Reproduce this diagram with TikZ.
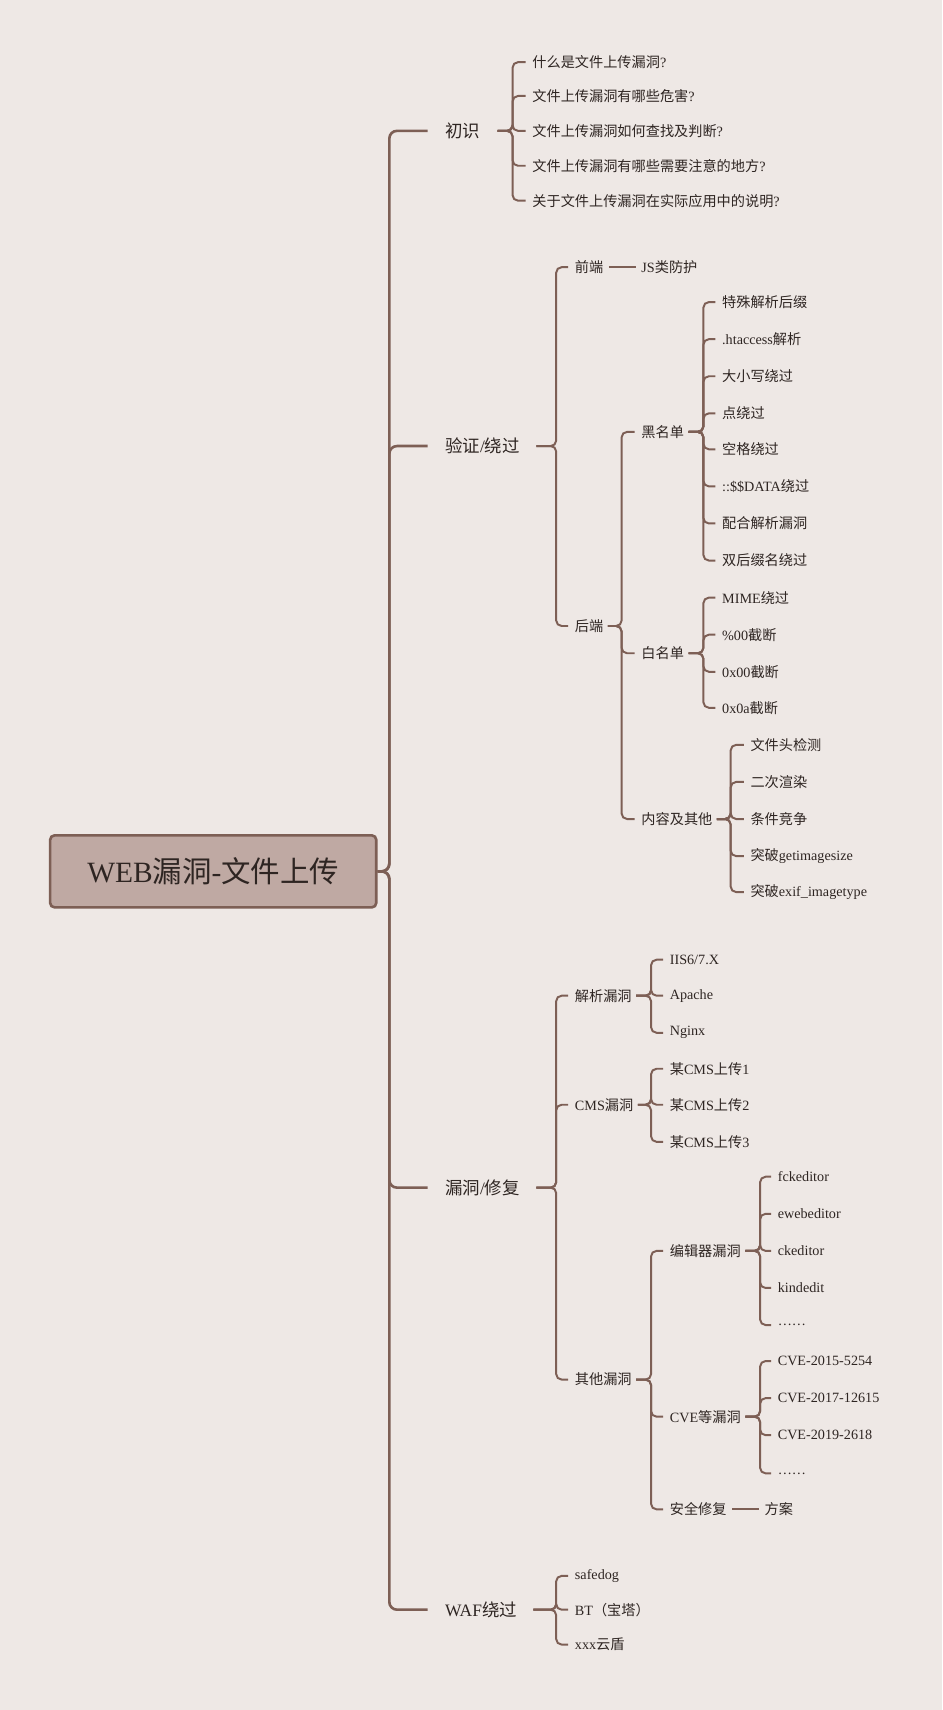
\documentclass[tikz,border=0pt]{standalone}
\usepackage{fontspec}
\setmainfont{Liberation Serif}
\newfontfamily\cjk{Noto Sans CJK SC}
\XeTeXinterchartokenstate=1
\newXeTeXintercharclass\cjkclass
\count255="4E00
\loop\XeTeXcharclass\count255=\cjkclass\ifnum\count255<"9FFF\advance\count255 1\repeat
\count255="FF00
\loop\XeTeXcharclass\count255=\cjkclass\ifnum\count255<"FFEF\advance\count255 1\repeat
\XeTeXinterchartoks 0 \cjkclass={\cjk}
\XeTeXinterchartoks 4095 \cjkclass={\cjk}
\XeTeXinterchartoks \cjkclass 0={\rmfamily}
\definecolor{bg}{HTML}{EEE8E5}
\definecolor{ln}{HTML}{7D5F55}
\definecolor{rootfill}{HTML}{BFA9A3}
\definecolor{tx}{HTML}{2E2522}
\tikzset{
 lab/.style={anchor=west,inner sep=0pt,text=tx,font=\fontsize{13}{15}\selectfont},
 big/.style={lab,font=\fontsize{16}{18}\selectfont},
 link/.style={draw=ln,line width=1.8pt,rounded corners=5pt},
 trunk/.style={draw=ln,line width=2.4pt,rounded corners=7pt}
}
\newcommand\conn[4]{% parent, bracket x, start gap, children
 \coordinate (tmpb) at (#2,0);
 \foreach \c in {#4}{\draw[link] ([xshift=#3]#1.east) -- (#1.east -| tmpb) |- ([xshift=-6]\c.west);}}
\begin{document}
\begin{tikzpicture}[x=1pt,y=-1pt]
\fill[bg] (0,0) rectangle (864,1568);
\useasboundingbox (0,0) rectangle (864,1568);
\node[draw=ln,line width=2.4pt,fill=rootfill,rounded corners=4pt,minimum width=299pt,minimum height=66pt,text=tx,font=\fontsize{27}{30}\selectfont] (root) at (195.5,799) {WEB漏洞-文件上传};
\node[big] (a) at (408,120) {初识};
\node[big] (b) at (408,409) {验证/绕过};
\node[big] (c) at (408,1089) {漏洞/修复};
\node[big] (d) at (408,1476) {WAF绕过};
\coordinate (tb) at (357,0);
\foreach \c in {a,b,c,d}{\draw[trunk] (root.east) -- (root.east -| tb) |- ([xshift=-16]\c.west);}
% 初识
\node[lab] (a1) at (488,57) {什么是文件上传漏洞?};
\node[lab] (a2) at (488,88) {文件上传漏洞有哪些危害?};
\node[lab] (a3) at (488,120) {文件上传漏洞如何查找及判断?};
\node[lab] (a4) at (488,152) {文件上传漏洞有哪些需要注意的地方?};
\node[lab] (a5) at (488,184) {关于文件上传漏洞在实际应用中的说明?};
\conn{a}{470}{16}{a1,a2,a3,a4,a5}
% 验证/绕过
\node[lab] (b1) at (527,245) {前端};
\node[lab] (b2) at (527,574) {后端};
\conn{b}{510}{15}{b1,b2}
\node[lab] (b11) at (588,245) {JS类防护};
\draw[link] ([xshift=5]b1.east) -- ([xshift=-5]b11.west);
\node[lab] (k) at (588,396) {黑名单};
\node[lab] (w) at (588,599) {白名单};
\node[lab] (o) at (588,751) {内容及其他};
\conn{b2}{570}{4}{k,w,o}
\node[lab] (k1) at (662,277) {特殊解析后缀};
\node[lab] (k2) at (662,311) {.htaccess解析};
\node[lab] (k3) at (662,345) {大小写绕过};
\node[lab] (k4) at (662,379) {点绕过};
\node[lab] (k5) at (662,412) {空格绕过};
\node[lab] (k6) at (662,446) {::\$\$DATA绕过};
\node[lab] (k7) at (662,480) {配合解析漏洞};
\node[lab] (k8) at (662,514) {双后缀名绕过};
\conn{k}{645}{4}{k1,k2,k3,k4,k5,k6,k7,k8}
\node[lab] (w1) at (662,548) {MIME绕过};
\node[lab] (w2) at (662,582) {\%00截断};
\node[lab] (w3) at (662,616) {0x00截断};
\node[lab] (w4) at (662,649) {0x0a截断};
\conn{w}{645}{4}{w1,w2,w3,w4}
\node[lab] (o1) at (688,683) {文件头检测};
\node[lab] (o2) at (688,717) {二次渲染};
\node[lab] (o3) at (688,751) {条件竞争};
\node[lab] (o4) at (688,785) {突破getimagesize};
\node[lab] (o5) at (688,818) {突破exif\_imagetype};
\conn{o}{670}{4}{o1,o2,o3,o4,o5}
% 漏洞/修复
\node[lab] (c1) at (527,913) {解析漏洞};
\node[lab] (c2) at (527,1013) {CMS漏洞};
\node[lab] (c3) at (527,1265) {其他漏洞};
\conn{c}{510}{15}{c1,c2,c3}
\node[lab] (p1) at (614,880) {IIS6/7.X};
\node[lab] (p2) at (614,913) {Apache};
\node[lab] (p3) at (614,947) {Nginx};
\conn{c1}{597}{4}{p1,p2,p3}
\node[lab] (m1) at (614,980) {某CMS上传1};
\node[lab] (m2) at (614,1013) {某CMS上传2};
\node[lab] (m3) at (614,1047) {某CMS上传3};
\conn{c2}{597}{4}{m1,m2,m3}
\node[lab] (e) at (614,1147) {编辑器漏洞};
\node[lab] (v) at (614,1299) {CVE等漏洞};
\node[lab] (s) at (614,1384) {安全修复};
\conn{c3}{597}{4}{e,v,s}
\node[lab] (e1) at (713,1079) {fckeditor};
\node[lab] (e2) at (713,1113) {ewebeditor};
\node[lab] (e3) at (713,1147) {ckeditor};
\node[lab] (e4) at (713,1181) {kindedit};
\node[lab] (e5) at (713,1215) {……};
\conn{e}{697}{4}{e1,e2,e3,e4,e5}
\node[lab] (v1) at (713,1248) {CVE-2015-5254};
\node[lab] (v2) at (713,1282) {CVE-2017-12615};
\node[lab] (v3) at (713,1316) {CVE-2019-2618};
\node[lab] (v4) at (713,1351) {……};
\conn{v}{697}{4}{v1,v2,v3,v4}
\node[lab] (s1) at (701,1384) {方案};
\draw[link] ([xshift=5]s.east) -- ([xshift=-5]s1.west);
% WAF
\node[lab] (d1) at (527,1445) {safedog};
\node[lab] (d2) at (527,1476) {BT（宝塔）};
\node[lab] (d3) at (527,1508) {xxx云盾};
\conn{d}{510}{15}{d1,d2,d3}
\end{tikzpicture}
\end{document}
